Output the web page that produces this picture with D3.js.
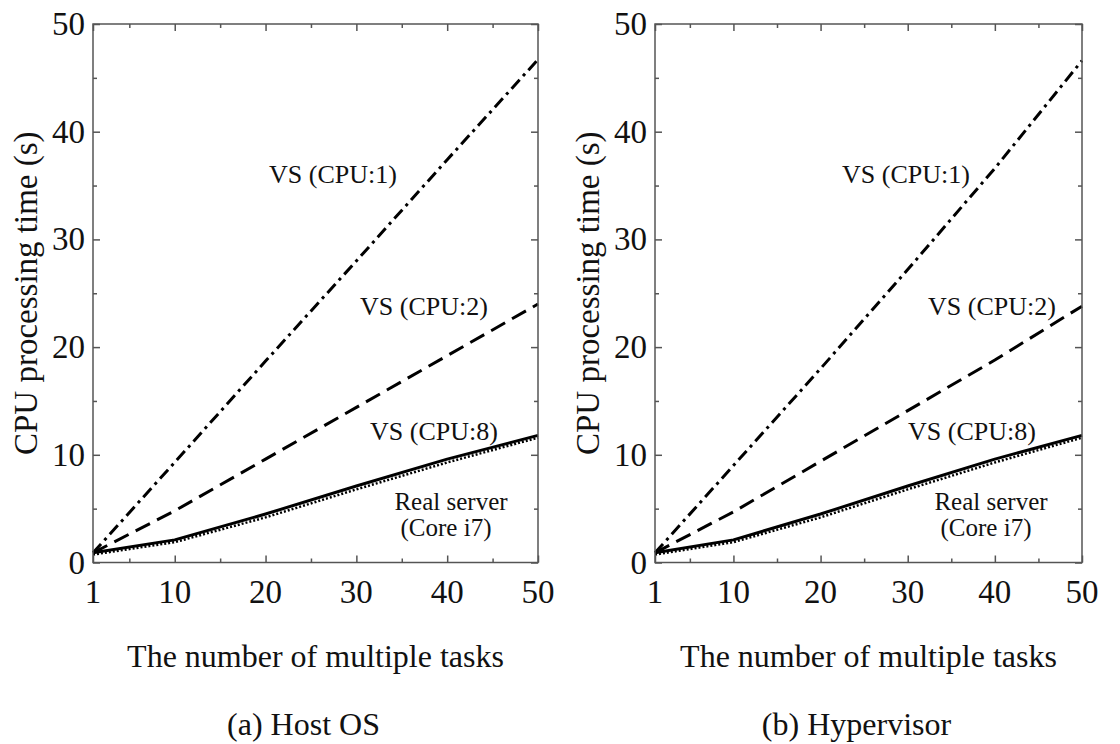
<!DOCTYPE html>
<html>
<head>
<meta charset="utf-8">
<script src="https://cdn.jsdelivr.net/npm/d3@7/dist/d3.min.js"></script>
<style>
  html, body { margin: 0; padding: 0; background: #fff; }
  svg { display: block; }
</style>
</head>
<body>
<svg id="chart" width="1120" height="744"></svg>
<script>
// Number of concurrent tasks (x positions of the measurements)
const tasks = [1, 10, 20, 30, 40, 50];

// CPU processing time (s), host OS virtualization
const hostCpu1 = [0.9, 9.3, 18.7, 28.0, 37.4, 46.7];
const hostCpu2 = [0.9, 4.8, 9.6, 14.4, 19.2, 24.0];
const hostCpu8 = [0.9, 2.1, 4.5, 7.1, 9.6, 11.8];

// CPU processing time (s), hypervisor virtualization
const hypCpu1 = [0.9, 9.0, 18.0, 27.2, 36.6, 46.6];
const hypCpu2 = [0.9, 4.7, 9.4, 14.1, 18.8, 23.8];
const hypCpu8 = [0.9, 2.1, 4.5, 7.1, 9.6, 11.8];

// Physical machine baseline
const realServer = [0.85, 2.0, 4.3, 6.9, 9.4, 11.7];

const xMajorTicks = [1, 10, 20, 30, 40, 50];
const xMinorTicks = [5, 15, 25, 35, 45];
const yMajorTicks = [0, 10, 20, 30, 40, 50];
const yMinorTicks = [5, 15, 25, 35, 45];

const seriesLabels = ["VS (CPU:1)", "VS (CPU:2)", "VS (CPU:8)"];
const realServerLabel = ["Real server", "(Core i7)"];
const captions = ["(a) Host OS", "(b) Hypervisor"];
const xTitle = "The number of multiple tasks";
const yTitle = "CPU processing time (s)";

const serif = "'Liberation Serif', 'Tinos', 'DejaVu Serif', 'Noto Serif', 'Times New Roman', serif";

const svg = d3.select("#chart");

const panels = [
  {
    left: 93, right: 538, caption: captions[0],
    series: [
      { values: hostCpu1, dash: "12,5,3,5", width: 3 },
      { values: hostCpu2, dash: "16,8", width: 3 },
      { values: realServer, dash: "2,2", width: 2.5, offset: 1.2 },
      { values: hostCpu8, dash: null, width: 3 }
    ],
    labels: [
      { text: seriesLabels[0], x: 333, y: 183 },
      { text: seriesLabels[1], x: 424, y: 315 },
      { text: seriesLabels[2], x: 434, y: 440 }
    ],
    realLabel: { x: 451, dx2: -5, y: 510 }
  },
  {
    left: 655, right: 1082, caption: captions[1],
    series: [
      { values: hypCpu1, dash: "12,5,3,5", width: 3 },
      { values: hypCpu2, dash: "16,8", width: 3 },
      { values: realServer, dash: "2,2", width: 2.5, offset: 1.2 },
      { values: hypCpu8, dash: null, width: 3 }
    ],
    labels: [
      { text: seriesLabels[0], x: 906, y: 183 },
      { text: seriesLabels[1], x: 992, y: 315 },
      { text: seriesLabels[2], x: 972, y: 440 }
    ],
    realLabel: { x: 991, dx2: -5, y: 510 }
  }
];

const plotTop = 24, plotBottom = 562.5;
const y = d3.scaleLinear().domain([0, 50]).range([plotBottom, plotTop]);

function addText(sel) {
  return sel.append("text").attr("font-family", serif).attr("fill", "#111");
}

panels.forEach(p => {
  const x = d3.scaleLinear().domain([1, 50]).range([p.left, p.right]);
  const g = svg.append("g");

  // data lines
  p.series.forEach(s => {
    const line = d3.line()
      .x((d, i) => x(tasks[i]))
      .y(d => y(d) + (s.offset || 0));
    g.append("path")
      .datum(s.values)
      .attr("d", line)
      .attr("fill", "none")
      .attr("stroke", "#000")
      .attr("stroke-width", s.width)
      .attr("stroke-linejoin", "round")
      .attr("stroke-dasharray", s.dash);
  });

  // frame with inward ticks on all four sides
  const axisColor = "#555";
  const frame = svg.append("g");
  frame.append("rect")
    .attr("x", p.left).attr("y", plotTop)
    .attr("width", p.right - p.left).attr("height", plotBottom - plotTop)
    .attr("fill", "none").attr("stroke", axisColor).attr("stroke-width", 1.5);

  const bottomAxis = d3.axisBottom(x).tickValues(xMajorTicks).tickSize(-7).tickFormat("");
  const topAxis = d3.axisTop(x).tickValues(xMajorTicks).tickSize(-7).tickFormat("");
  const bottomMinor = d3.axisBottom(x).tickValues(xMinorTicks).tickSize(-4).tickFormat("");
  const topMinor = d3.axisTop(x).tickValues(xMinorTicks).tickSize(-4).tickFormat("");
  const leftAxis = d3.axisLeft(y).tickValues(yMajorTicks).tickSize(-7).tickFormat("");
  const rightAxis = d3.axisRight(y).tickValues(yMajorTicks).tickSize(-7).tickFormat("");
  const leftMinor = d3.axisLeft(y).tickValues(yMinorTicks).tickSize(-4).tickFormat("");
  const rightMinor = d3.axisRight(y).tickValues(yMinorTicks).tickSize(-4).tickFormat("");

  [[bottomAxis, `translate(0,${plotBottom})`], [bottomMinor, `translate(0,${plotBottom})`],
   [topAxis, `translate(0,${plotTop})`], [topMinor, `translate(0,${plotTop})`],
   [leftAxis, `translate(${p.left},0)`], [leftMinor, `translate(${p.left},0)`],
   [rightAxis, `translate(${p.right},0)`], [rightMinor, `translate(${p.right},0)`]]
    .forEach(([ax, tr]) => {
      const a = frame.append("g").attr("transform", tr).call(ax);
      a.select(".domain").remove();
      a.selectAll(".tick line").attr("stroke", axisColor).attr("stroke-width", 1.5);
    });

  // tick labels
  xMajorTicks.forEach(d => {
    addText(frame).attr("x", x(d)).attr("y", 603)
      .attr("text-anchor", "middle").attr("font-size", 33).text(d);
  });
  yMajorTicks.forEach(d => {
    addText(frame).attr("x", p.left - 8).attr("y", y(d) + 11)
      .attr("text-anchor", "end").attr("font-size", 33).text(d);
  });

  // axis titles and caption
  const cx = (p.left + p.right) / 2;
  addText(frame).attr("x", cx).attr("y", 667)
    .attr("text-anchor", "middle").attr("font-size", 32).text(xTitle);
  addText(frame)
    .attr("transform", `translate(${p.left - 56},${(plotTop + plotBottom) / 2}) rotate(-90)`)
    .attr("text-anchor", "middle").attr("font-size", 33).text(yTitle);
  addText(frame).attr("x", cx - 12).attr("y", 735)
    .attr("text-anchor", "middle").attr("font-size", 32).text(p.caption);

  // series annotations
  p.labels.forEach(d => {
    addText(frame).attr("x", d.x).attr("y", d.y)
      .attr("text-anchor", "middle").attr("font-size", 26).text(d.text);
  });

  // two-line label for the physical machine
  const rl = addText(frame).attr("text-anchor", "middle").attr("font-size", 25);
  rl.append("tspan").attr("x", p.realLabel.x).attr("y", p.realLabel.y).text(realServerLabel[0]);
  rl.append("tspan").attr("x", p.realLabel.x + p.realLabel.dx2).attr("dy", 26).text(realServerLabel[1]);
});
</script>
</body>
</html>
